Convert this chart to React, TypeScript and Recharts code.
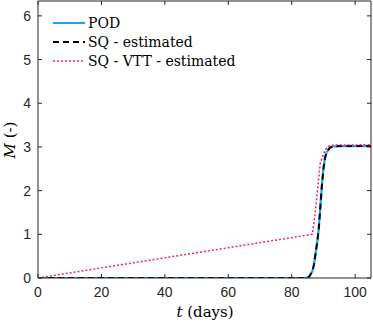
import { LineChart, Line, XAxis, YAxis } from "recharts";

const xTicks = [0, 20, 40, 60, 80, 100];
const yTicks = [0, 1, 2, 3, 4, 5, 6];

// POD and SQ - estimated (almost identical curves)
const podT = [0, 84.5, 85.5, 86.5, 87, 87.5, 88, 88.5, 89, 89.5, 90, 90.5, 91, 92, 93, 95, 105];
const podM = [0, 0, 0.03, 0.15, 0.3, 0.55, 0.8, 1.1, 1.6, 2.1, 2.5, 2.75, 2.88, 2.98, 3.01, 3.02, 3.02];
const sqM = [0, 0, 0.03, 0.15, 0.3, 0.55, 0.8, 1.1, 1.6, 2.1, 2.5, 2.75, 2.88, 2.98, 3.01, 3.02, 3.02];

// SQ - VTT - estimated
const vttT = [0, 86.5, 87.4, 89, 90.5, 92, 105];
const vttM = [0, 1.0, 1.48, 2.63, 2.93, 3.04, 3.05];

const podData = podT.map((t, i) => ({ t, m: podM[i] }));
const sqData = podT.map((t, i) => ({ t, m: sqM[i] }));
const vttData = vttT.map((t, i) => ({ t, m: vttM[i] }));

const AXIS = "#262626";
const tickStyle = { fontFamily: "'Liberation Sans', Arial, sans-serif", fontSize: 14, fill: AXIS };
const serif = "'DejaVu Serif', serif";

const legendItems = [
  { name: "POD", color: "#1aa3f0", dash: undefined, width: 2 },
  { name: "SQ - estimated", color: "#000000", dash: "6 4", width: 2 },
  { name: "SQ - VTT - estimated", color: "#ff1a75", dash: "2 2", width: 1.5 },
];

const LegendBox = () => (
  <svg width={220} height={70} style={{ position: "absolute", left: 53, top: 13 }}>
    {legendItems.map((it, i) => (
      <g key={it.name}>
        <line x1={0} x2={32} y1={10 + i * 19} y2={10 + i * 19} stroke={it.color} strokeWidth={it.width} strokeDasharray={it.dash} />
        <text x={35} y={15 + i * 19} style={{ fontFamily: serif, fontSize: 14 }} fill="#000">
          {it.name}
        </text>
      </g>
    ))}
  </svg>
);

export default function App() {
  return (
    <div style={{ position: "absolute", left: 0, top: 0, width: 373, height: 324, background: "#fff" }}>
      <LineChart width={373} height={324} margin={{ top: 0, right: 1, left: 0, bottom: 0 }}>
        <XAxis
          xAxisId="b"
          dataKey="t"
          type="number"
          domain={[0, 105]}
          ticks={xTicks}
          height={46}
          stroke={AXIS}
          tickSize={-4}
          tickMargin={13}
          tick={tickStyle}
          allowDataOverflow
          label={() => (
            <text x={205} y={317} textAnchor="middle" style={{ fontFamily: serif, fontSize: 15 }} fill="#000">
              <tspan fontStyle="italic">t</tspan> (days)
            </text>
          )}
        />
        <XAxis
          xAxisId="top"
          orientation="top"
          dataKey="t"
          type="number"
          domain={[0, 105]}
          ticks={xTicks}
          height={1}
          stroke={AXIS}
          tickSize={-4}
          tickFormatter={() => ""}
          allowDataOverflow
        />
        <YAxis
          yAxisId="l"
          type="number"
          domain={[0, 6.34]}
          ticks={yTicks}
          width={38}
          stroke={AXIS}
          tickSize={-4}
          tickMargin={11}
          tick={tickStyle}
          allowDataOverflow
          label={() => (
            <text x={15} y={140} textAnchor="middle" transform="rotate(-90 15 140)" style={{ fontFamily: serif, fontSize: 15 }} fill="#000">
              <tspan fontStyle="italic">M</tspan> (-)
            </text>
          )}
        />
        <YAxis
          yAxisId="r"
          orientation="right"
          type="number"
          domain={[0, 6.34]}
          ticks={yTicks}
          width={1}
          stroke={AXIS}
          tickSize={-4}
          tickFormatter={() => ""}
          allowDataOverflow
        />
        <Line xAxisId="b" yAxisId="l" data={podData} dataKey="m" type="linear" stroke="#1aa3f0" strokeWidth={2.2} dot={false} isAnimationActive={false} />
        <Line xAxisId="b" yAxisId="l" data={sqData} dataKey="m" type="linear" stroke="#000000" strokeWidth={2} strokeDasharray="6 4" dot={false} isAnimationActive={false} />
        <Line xAxisId="b" yAxisId="l" data={vttData} dataKey="m" type="linear" stroke="#ff1a75" strokeWidth={1.5} strokeDasharray="2 2" dot={false} isAnimationActive={false} />
      </LineChart>
      <LegendBox />
    </div>
  );
}
